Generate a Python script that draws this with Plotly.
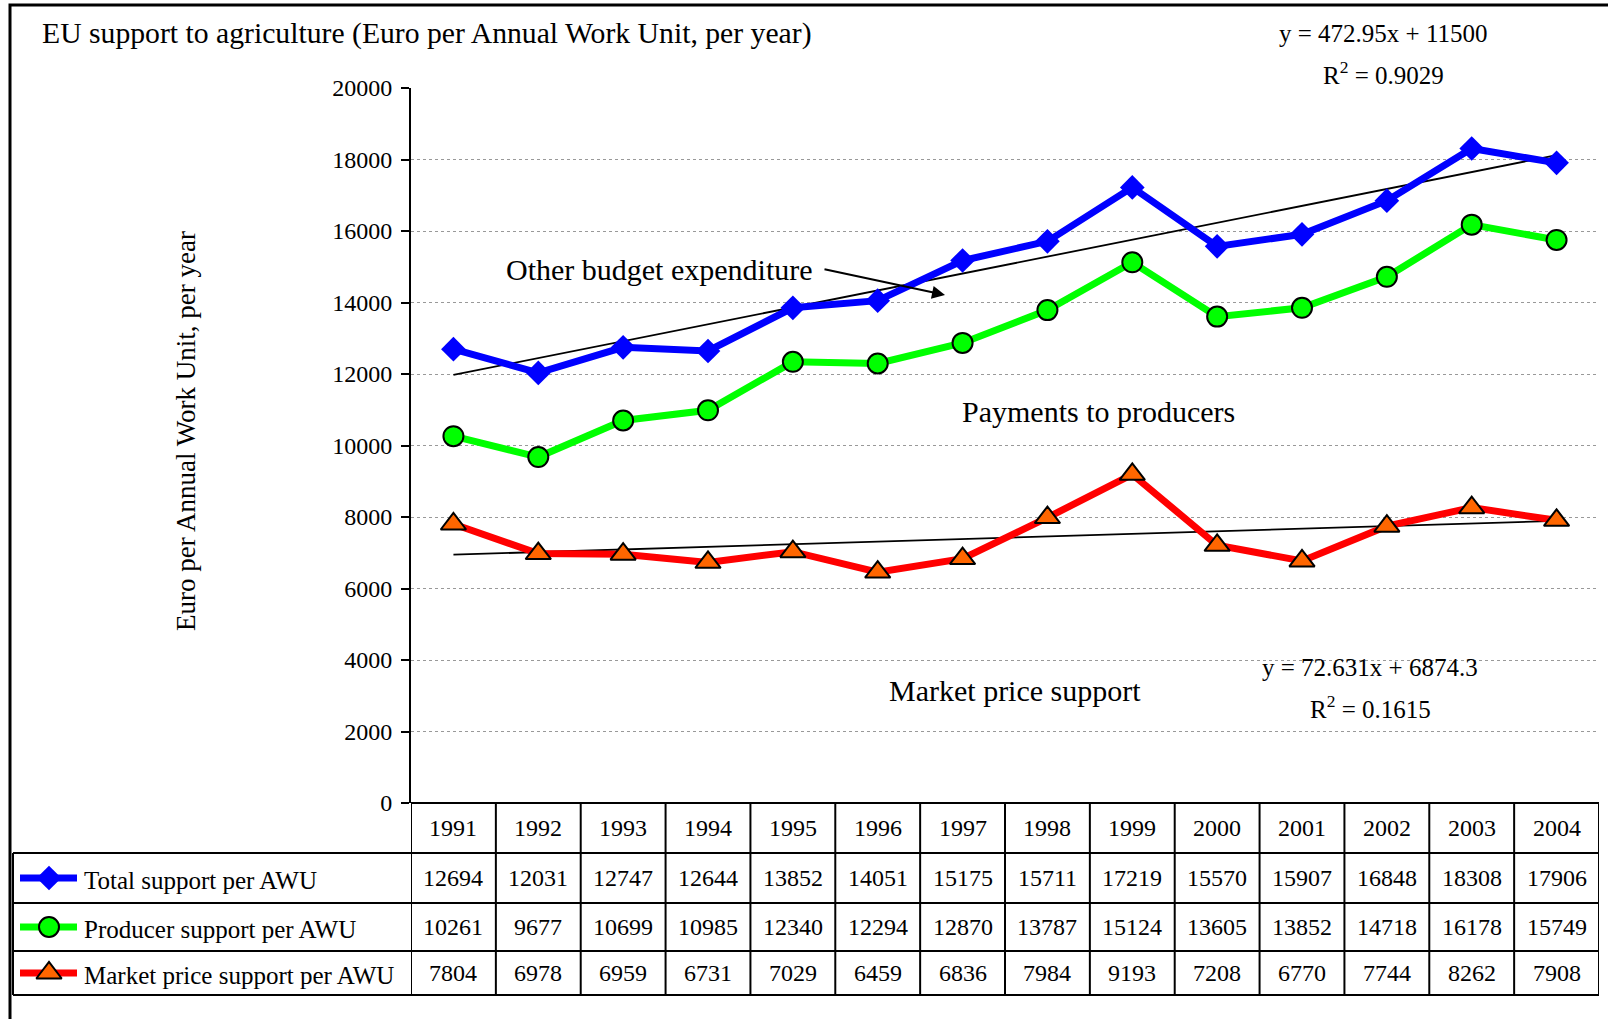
import plotly.graph_objects as go

# ---- data -------------------------------------------------------------
years = [1991, 1992, 1993, 1994, 1995, 1996, 1997, 1998, 1999, 2000, 2001, 2002, 2003, 2004]
total_support = [12694, 12031, 12747, 12644, 13852, 14051, 15175, 15711, 17219, 15570, 15907, 16848, 18308, 17906]
producer_support = [10261, 9677, 10699, 10985, 12340, 12294, 12870, 13787, 15124, 13605, 13852, 14718, 16178, 15749]
market_support = [7804, 6978, 6959, 6731, 7029, 6459, 6836, 7984, 9193, 7208, 6770, 7744, 8262, 7908]

series_names = ["Total support per AWU", "Producer support per AWU", "Market price support per AWU"]

# linear trends (slope, intercept, R^2) on year index 1..14
total_trend = (472.95, 11500, 0.9029)
market_trend = (72.631, 6874.3, 0.1615)

y_ticks = list(range(0, 20001, 2000))

# ---- layout geometry --------------------------------------------------
W, H = 1608, 1019
FONT = "Liberation Serif"


def px(x):
    return x / W


def py(y):
    return 1 - y / H


x_idx = list(range(1, len(years) + 1))
plot_left, plot_right = 411, 1599
plot_top, plot_bottom = 88, 803
row_edges = [803, 853, 903, 951, 995]

fig = go.Figure()

# trend lines
for slope, icpt, _ in (total_trend, market_trend):
    xs = [x_idx[0], x_idx[-1]]
    fig.add_trace(go.Scatter(
        x=xs, y=[slope * v + icpt for v in xs], mode="lines",
        line=dict(color="black", width=1.8), showlegend=False, hoverinfo="skip"))

styles = [
    dict(color="#0000FF", symbol="diamond", size=19, mcolor="#0000FF", mline=0),
    dict(color="#00FF00", symbol="circle", size=20, mcolor="#00FF00", mline=2),
    dict(color="#FF0000", symbol="triangle-up", size=22, mcolor="#FF6600", mline=2),
]
series_values = [total_support, producer_support, market_support]

for name, vals, st in zip(series_names, series_values, styles):
    fig.add_trace(go.Scatter(
        x=x_idx, y=vals, mode="lines+markers", name=name,
        line=dict(color=st["color"], width=7),
        marker=dict(symbol=st["symbol"], size=st["size"], color=st["mcolor"],
                    line=dict(color="black", width=st["mline"])),
        showlegend=False))

# legend keys inside the table, on a pixel-space overlay axis
key_rows = [878, 927, 973]
for st, yc in zip(styles, key_rows):
    fig.add_trace(go.Scatter(
        x=[20, 77], y=[yc, yc], mode="lines", xaxis="x2", yaxis="y2",
        line=dict(color=st["color"], width=7), showlegend=False, hoverinfo="skip"))
    fig.add_trace(go.Scatter(
        x=[49], y=[yc], mode="markers", xaxis="x2", yaxis="y2",
        marker=dict(symbol=st["symbol"], size=st["size"], color=st["mcolor"],
                    line=dict(color="black", width=st["mline"])),
        showlegend=False, hoverinfo="skip"))

shapes = []
line_k = dict(color="black", width=2)

# outer frame
shapes.append(dict(type="rect", xref="paper", yref="paper",
                   x0=px(10), x1=px(1640), y0=py(5), y1=py(1060),
                   line=dict(color="black", width=3)))

# data table: horizontal rules
shapes.append(dict(type="line", xref="paper", yref="paper",
                   x0=px(plot_left), x1=px(plot_right), y0=py(row_edges[0]), y1=py(row_edges[0]),
                   line=line_k))
for ry in row_edges[1:]:
    shapes.append(dict(type="line", xref="paper", yref="paper",
                       x0=px(13), x1=px(plot_right), y0=py(ry), y1=py(ry), line=line_k))
# vertical rules between year columns
for k in range(len(years) + 1):
    shapes.append(dict(type="line", xref="x", yref="paper",
                       x0=k + 0.5, x1=k + 0.5, y0=py(row_edges[0]), y1=py(row_edges[-1]),
                       line=line_k))
shapes.append(dict(type="line", xref="paper", yref="paper",
                   x0=px(13), x1=px(13), y0=py(row_edges[1]), y1=py(row_edges[-1]), line=line_k))

annotations = []
cell_font = dict(family=FONT, size=24, color="black")

# year header row
for xi, yr in zip(x_idx, years):
    annotations.append(dict(x=xi, y=py(828), xref="x", yref="paper", text=str(yr),
                            showarrow=False, font=cell_font, xanchor="center", yanchor="middle"))
# value rows
for vals, yc in zip(series_values, key_rows):
    for xi, v in zip(x_idx, vals):
        annotations.append(dict(x=xi, y=py(yc), xref="x", yref="paper", text=str(v),
                                showarrow=False, font=cell_font, xanchor="center", yanchor="middle"))
# row labels
for name, yc in zip(series_names, key_rows):
    annotations.append(dict(x=px(82), y=py(yc + 2), xref="paper", yref="paper", text=name,
                            showarrow=False, font=dict(family=FONT, size=25, color="black"),
                            xanchor="left", yanchor="middle"))

# chart title
annotations.append(dict(x=px(40), y=py(33), xref="paper", yref="paper",
                        text="EU support to agriculture (Euro per Annual Work Unit, per year)",
                        showarrow=False, font=dict(family=FONT, size=29.7, color="black"),
                        xanchor="left", yanchor="middle"))

# y axis title
annotations.append(dict(x=px(186), y=py(431), xref="paper", yref="paper",
                        text="Euro per Annual Work Unit, per year", textangle=-90,
                        showarrow=False, font=dict(family=FONT, size=27, color="black"),
                        xanchor="center", yanchor="middle"))

# trend equations
def eq_text(slope, icpt):
    return f"y = {slope:g}x + {icpt:g}"


for (slope, icpt, r2), (cx, y1, y2) in zip((total_trend, market_trend),
                                           ((1383, 34, 73), (1370, 667, 707))):
    annotations.append(dict(x=px(cx), y=py(y1), xref="paper", yref="paper",
                            text=eq_text(slope, icpt), showarrow=False,
                            font=dict(family=FONT, size=25, color="black"),
                            xanchor="center", yanchor="middle"))
    annotations.append(dict(x=px(cx), y=py(y2), xref="paper", yref="paper",
                            text=f"R<sup>2</sup> = {r2:.4f}", showarrow=False,
                            font=dict(family=FONT, size=25, color="black"),
                            xanchor="center", yanchor="middle"))

# area labels
for txt, cx, cy in (("Other budget expenditure", 659, 269),
                    ("Payments to producers", 1098, 411),
                    ("Market price support", 1015, 690)):
    annotations.append(dict(x=px(cx), y=py(cy), xref="paper", yref="paper", text=txt,
                            showarrow=False, font=dict(family=FONT, size=30, color="black"),
                            xanchor="center", yanchor="middle"))

# arrow from the "Other budget expenditure" label
annotations.append(dict(x=px(945), y=py(295), xref="paper", yref="paper", text="",
                        showarrow=True, ax=823 - 945, ay=269 - 295,
                        arrowhead=2, arrowsize=1.3, arrowwidth=2, arrowcolor="black"))

fig.update_layout(
    width=W, height=H, autosize=False,
    margin=dict(l=0, r=0, t=0, b=0, pad=0, autoexpand=False),
    paper_bgcolor="white", plot_bgcolor="rgba(0,0,0,0)",
    font=dict(family=FONT, color="black"),
    xaxis=dict(domain=[px(plot_left), px(plot_right)], range=[0.5, len(years) + 0.5],
               showticklabels=False, showgrid=False, zeroline=False, showline=False,
               fixedrange=True),
    yaxis=dict(domain=[py(plot_bottom), py(plot_top)], range=[0, 20000],
               tickvals=y_ticks, ticktext=[str(t) for t in y_ticks],
               ticks="outside", ticklen=8, tickwidth=2, tickcolor="black",
               showline=True, linecolor="black", linewidth=2,
               showgrid=True, gridcolor="#999999", gridwidth=1, griddash="dot",
               zeroline=False, ticklabelstandoff=4,
               tickfont=dict(family=FONT, size=24, color="black"), fixedrange=True),
    xaxis2=dict(domain=[0, 1], range=[0, W], visible=False, anchor="y2", fixedrange=True),
    yaxis2=dict(domain=[0, 1], range=[H, 0], visible=False, anchor="x2", fixedrange=True),
    shapes=shapes, annotations=annotations,
    showlegend=False,
)

fig.write_html("out.html")
